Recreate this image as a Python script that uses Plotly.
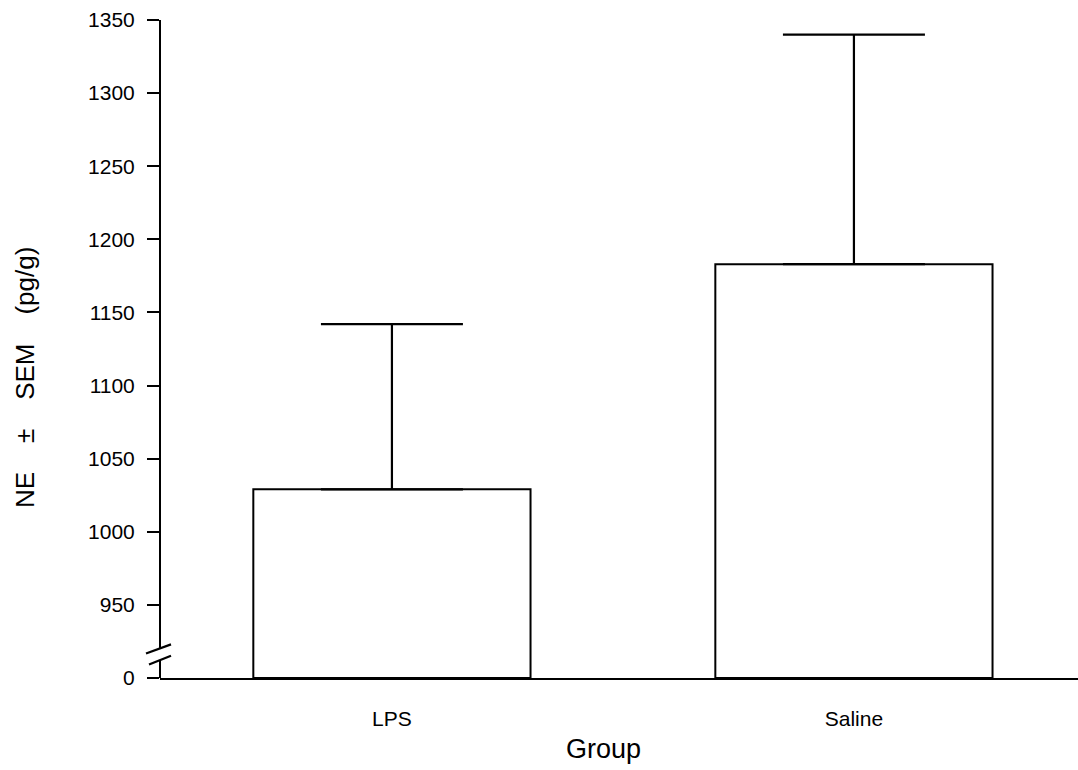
import plotly.graph_objects as go

# ---- data ----
groups = ["LPS", "Saline"]
ne_mean = [1029, 1183]          # NE (pg/g)
ne_sem = [113, 157]             # SEM (upper error only)
ytick_vals = [900, 950, 1000, 1050, 1100, 1150, 1200, 1250, 1300, 1350]
ytick_text = ["0", "950", "1000", "1050", "1100", "1150", "1200", "1250", "1300", "1350"]
AXIS_FLOOR = 900                # broken axis: position of "0"

FONT = "Liberation Sans, Arial, sans-serif"

fig = go.Figure()
fig.add_trace(go.Bar(
    x=[0, 1],
    y=[m - AXIS_FLOOR for m in ne_mean],
    base=AXIS_FLOOR,
    width=0.6,
    marker=dict(color="white", line=dict(color="black", width=2)),
    error_y=dict(type="data", symmetric=False, array=ne_sem,
                 arrayminus=[0, 0], color="black", thickness=2.2, width=71),
    showlegend=False,
    hoverinfo="skip",
))

# broken y-axis line + break marks (paper x, data y)
px_w = 918.0
def pxx(p):
    return (p - 160) / px_w

shapes = [
    dict(type="line", xref="paper", yref="y", x0=0, x1=0, y0=1350, y1=920,
         line=dict(color="black", width=2)),
    dict(type="line", xref="paper", yref="y", x0=0, x1=0, y0=912.3, y1=900,
         line=dict(color="black", width=2)),
    dict(type="line", xref="paper", yref="y", x0=pxx(146), x1=pxx(171), y0=916.8, y1=923.0,
         line=dict(color="black", width=2.2)),
    dict(type="line", xref="paper", yref="y", x0=pxx(149), x1=pxx(171), y0=909.2, y1=915.2,
         line=dict(color="black", width=2.2)),
]

sp = "\u00a0" * 4
annotations = [
    dict(text=f"NE{sp}±{sp}SEM{sp}(pg/g)", xref="paper", yref="paper",
         x=pxx(25), y=(678 - 378) / 658.0, textangle=-90, showarrow=False,
         xanchor="center", yanchor="middle", font=dict(family=FONT, size=26, color="black")),
    dict(text="Group", xref="paper", yref="paper",
         x=pxx(603), y=(678 - 749) / 658.0, showarrow=False,
         xanchor="center", yanchor="middle", font=dict(family=FONT, size=27, color="black")),
]

fig.update_layout(
    width=1078, height=770,
    margin=dict(l=160, r=0, t=20, b=92),
    paper_bgcolor="white", plot_bgcolor="white",
    shapes=shapes, annotations=annotations,
    font=dict(family=FONT, color="black"),
    xaxis=dict(
        range=[-0.502, 1.485],
        tickvals=[0, 1], ticktext=groups,
        showgrid=False, zeroline=False,
        showline=True, linecolor="black", linewidth=2,
        ticks="", tickfont=dict(family=FONT, size=21, color="black"),
        ticklabelstandoff=21,
    ),
    yaxis=dict(
        range=[900, 1350],
        tickvals=ytick_vals, ticktext=ytick_text,
        showgrid=False, zeroline=False, showline=False,
        ticks="outside", ticklen=12, tickwidth=2, tickcolor="black",
        tickfont=dict(family=FONT, size=21, color="black"),
        ticklabelstandoff=8,
    ),
)

fig.write_html("out.html")
